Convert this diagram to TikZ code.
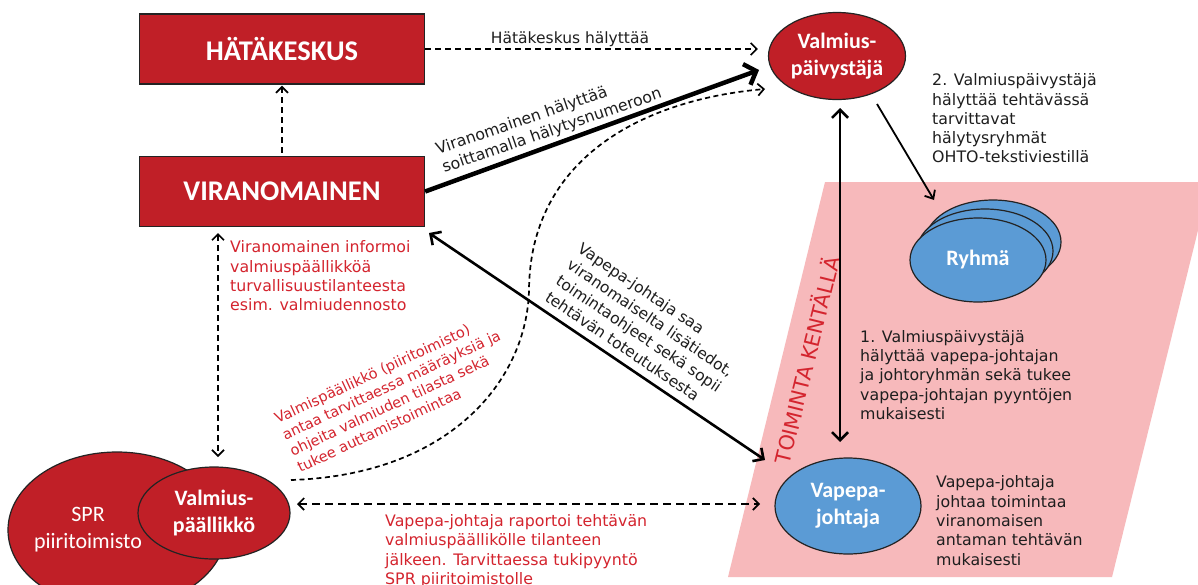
\documentclass[tikz,border=0pt]{standalone}
\usepackage{fontspec}
\setmainfont{DejaVu Sans}
\newfontfamily\calfont{Carlito}
\usetikzlibrary{arrows.meta,shapes.geometric,calc}
\definecolor{boxred}{RGB}{192,31,39}
\definecolor{blu}{RGB}{91,155,213}
\definecolor{pinkbg}{RGB}{247,185,187}
\definecolor{txtred}{RGB}{212,36,46}
\definecolor{txtblk}{RGB}{30,30,30}
\definecolor{edgec}{RGB}{35,35,35}
\tikzset{
  redbox/.style={draw=edgec, line width=1.3pt, fill=boxred, text=white,
    font=\calfont\bfseries\fontsize{28.5}{34}\selectfont,
    minimum width=285pt, minimum height=70pt, inner sep=0pt},
  redell/.style={ellipse, draw=edgec, line width=1.2pt, fill=boxred, text=white,
    align=center, inner sep=0pt, font=\calfont\bfseries\fontsize{22}{27}\selectfont},
  bluell/.style={ellipse, draw=edgec, line width=1.2pt, fill=blu, text=white,
    align=center, inner sep=0pt, font=\calfont\bfseries\fontsize{22}{27}\selectfont},
  note/.style={align=left, text=txtblk, inner sep=0pt, font=\fontsize{15.8}{19.3}\selectfont},
  rnote/.style={note, text=txtred},
  tipS/.tip={Straight Barb[length=6pt,width=12pt]},
  dsh/.style={line width=1.7pt, dash pattern=on 6pt off 4pt, -tipS},
  dshd/.style={line width=1.7pt, dash pattern=on 6pt off 4pt, tipS-tipS},
  thk/.style={line width=4.5pt, -{Straight Barb[length=10pt,width=22pt]}},
  dbl/.style={line width=2.6pt, {Straight Barb[length=8pt,width=16pt]}-{Straight Barb[length=8pt,width=16pt]}},
  thn/.style={line width=1.8pt, -{Straight Barb[length=7pt,width=12pt]}}
}
\begin{document}
\begin{tikzpicture}[x=1pt,y=-1pt]
\useasboundingbox (0,0) rectangle (1198,584);
\clip (0,0) rectangle (1198,584);
\fill[white] (0,0) rectangle (1198,584);

% field area
\fill[pinkbg] (825,182) -- (1210,182) -- (1112,577) -- (728,577) -- cycle;
\node[text=txtred, rotate=76.2, inner sep=0pt, font=\fontsize{20.8}{23}\selectfont] (tk) at (806,360) {TOIMINTA KENTÄLLÄ};

% nodes
\node[redbox] (hk) at (282,49) {HÄTÄKESKUS};
\node[redbox] (vir) at (282,191.5) {VIRANOMAINEN};
\node[redell, minimum width=137pt, minimum height=87pt] (vp) at (837,56) {Valmius-\\päivystäjä};
\node[bluell, minimum width=136pt, minimum height=84pt] (r3) at (993,242) {};
\node[bluell, minimum width=136pt, minimum height=84pt] (r2) at (985,251) {};
\node[bluell, minimum width=136pt, minimum height=84pt] (ry) at (978,260) {Ryhmä};
\node[bluell, minimum width=146pt, minimum height=96pt] (vj) at (848,506) {Vapepa-\\johtaja};
\node[redell, minimum width=218pt, minimum height=156pt] (spr) at (117,530) {};
\node[text=white, align=center, inner sep=0pt, font=\calfont\fontsize{22}{27}\selectfont] (sprt) at (88,530) {SPR\\piiritoimisto};
\node[redell, minimum width=152pt, minimum height=92pt] (vpk) at (214,513) {Valmius-\\päällikkö};

% free ends of connectors
\coordinate (t1) at (759,70);
\coordinate (c0) at (291,480);
\coordinate (c1) at (529,290);
\coordinate (c2) at (765,89);
\coordinate (d1) at (429,233);
\coordinate (d2) at (765,460);
\coordinate (e1) at (218,233);
\coordinate (e2) at (218,457);
\coordinate (h1) at (297,504);
\coordinate (h2) at (760,504);
\coordinate (v1) at (840,108);
\coordinate (v2) at (840,442);
\coordinate (g1) at (877,104);
\coordinate (g2) at (934,200);

% connectors
\draw[dsh] (hk.east) -- ([xshift=-10pt]vp.west |- hk.east);
\draw[dsh] ([yshift=3pt]vir.north) -- ([yshift=-1pt]hk.south);
\draw[thk] (vir.east) -- (t1);
\draw[dsh, dash pattern=on 5pt off 3.5pt] (c0) .. controls (450,475) and (527,380) .. (c1)
   .. controls (530,160) and (640,100) .. (c2);
\draw[dbl] (d1) -- (d2);
\draw[dshd] (e1) -- (e2);
\draw[dshd, dash pattern=on 8pt off 5pt] (h1) -- (h2);
\draw[dbl] (v1) -- (v2);
\draw[thn] (g1) -- (g2);

% labels
\node[note, font=\fontsize{15.5}{19}\selectfont] (lhk) at (570,39) {Hätäkeskus hälyttää};
\node[note, rotate=19] (lvh) at (549,122) {Viranomainen hälyttää\\soittamalla hälytysnumeroon};
\node[note, anchor=west] (l2) at (932,118.5) {2. Valmiuspäivystäjä\\hälyttää tehtävässä\\tarvittavat\\hälytysryhmät\\OHTO-tekstiviestillä};
\node[note, anchor=west] (l1) at (860,375) {1. Valmiuspäivystäjä\\hälyttää vapepa-johtajan\\ja johtoryhmän sekä tukee\\vapepa-johtajan pyyntöjen\\mukaisesti};
\node[note, anchor=west] (l3) at (936,520.5) {Vapepa-johtaja\\johtaa toimintaa\\viranomaisen\\antaman tehtävän\\mukaisesti};
\node[rnote, anchor=west] (linf) at (230,276) {Viranomainen informoi\\valmiuspäällikköä\\turvallisuustilanteesta\\esim. valmiudennosto};
\node[rnote, anchor=west] (lrap) at (385,551) {Vapepa-johtaja raportoi tehtävän\\valmiuspäällikölle tilanteen\\jälkeen. Tarvittaessa tukipyyntö\\SPR piiritoimistolle};
\node[rnote, rotate=25, font=\fontsize{14.5}{18}\selectfont] (lvpk) at (395,393) {Valmispäällikkö (piiritoimisto)\\antaa tarvittaessa määräyksiä ja\\ohjeita valmiuden tilasta sekä\\tukee auttamistoimintaa};
\node[note, rotate=-34, font=\fontsize{15.5}{19.5}\selectfont] (lvj) at (645,326) {Vapepa-johtaja saa\\viranomaiselta lisätiedot,\\toimintaohjeet sekä sopii\\tehtävän toteutuksesta};
\end{tikzpicture}
\end{document}
